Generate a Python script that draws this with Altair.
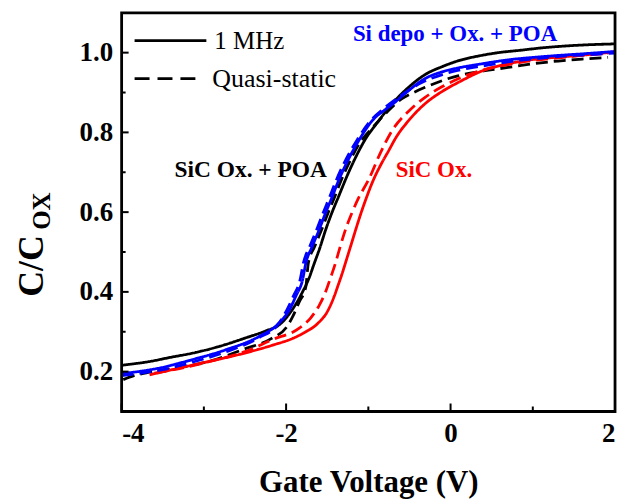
import altair as alt
import pandas as pd

# ---- data ----
bs_v = [-4.0, -3.7, -3.4, -3.1, -2.8, -2.5, -2.25, -2.08, -1.96, -1.88, -1.80, -1.72, -1.66, -1.59, -1.52, -1.44, -1.36, -1.26, -1.16, -1.03, -0.90, -0.71, -0.50, -0.31, -0.10, 0.10, 0.35, 0.58, 0.85, 1.11, 1.50, 2.0]
bs_c = [0.216, 0.224, 0.236, 0.248, 0.264, 0.284, 0.302, 0.318, 0.345, 0.37, 0.40, 0.435, 0.47, 0.51, 0.555, 0.60, 0.64, 0.69, 0.735, 0.785, 0.822, 0.872, 0.915, 0.945, 0.965, 0.98, 0.992, 1.0, 1.006, 1.012, 1.018, 1.022]

bd_v = [-3.98, -3.85, -3.70, -3.34, -2.93, -2.53, -2.17, -2.0, -1.92, -1.84, -1.76, -1.73, -1.65, -1.57, -1.49, -1.41, -1.33, -1.22, -1.10, -0.98, -0.87, -0.72, -0.59, -0.45, -0.31, -0.10, 0.10, 0.40, 0.70, 1.0, 1.31, 1.6, 1.915]
bd_c = [0.18, 0.19, 0.197, 0.209, 0.226, 0.255, 0.284, 0.31, 0.338, 0.375, 0.413, 0.472, 0.515, 0.555, 0.598, 0.638, 0.68, 0.73, 0.775, 0.805, 0.83, 0.862, 0.885, 0.90, 0.913, 0.93, 0.9425, 0.954, 0.963, 0.972, 0.979, 0.984, 0.988]

us_v = [-4.0, -3.54, -3.14, -2.73, -2.33, -2.085, -1.96, -1.88, -1.80, -1.76, -1.68, -1.60, -1.52, -1.44, -1.36, -1.26, -1.115, -0.95, -0.79, -0.71, -0.51, -0.31, -0.10, 0.10, 0.38, 0.70, 1.0, 1.31, 1.6, 2.0]
us_c = [0.195, 0.209, 0.23, 0.255, 0.288, 0.322, 0.355, 0.39, 0.43, 0.472, 0.515, 0.555, 0.598, 0.638, 0.68, 0.725, 0.78, 0.83, 0.858, 0.87, 0.905, 0.935, 0.952, 0.962, 0.972, 0.982, 0.988, 0.993, 0.997, 1.003]

ud_v = [-4.0, -3.5, -3.1, -2.7, -2.33, -2.1, -1.99, -1.91, -1.83, -1.79, -1.71, -1.63, -1.55, -1.47, -1.39, -1.29, -1.14, -0.97, -0.8, -0.6, -0.35, -0.1, 0.1, 0.4, 0.7, 1.0, 1.3, 1.6, 2.0]
ud_c = [0.19, 0.205, 0.226, 0.252, 0.285, 0.318, 0.355, 0.39, 0.43, 0.472, 0.515, 0.555, 0.598, 0.638, 0.68, 0.725, 0.78, 0.83, 0.862, 0.893, 0.925, 0.945, 0.956, 0.967, 0.977, 0.984, 0.99, 0.994, 0.999]

rs_v = [-3.66, -3.34, -2.93, -2.57, -2.17, -1.9, -1.76, -1.64, -1.58, -1.52, -1.47, -1.42, -1.37, -1.32, -1.27, -1.21, -1.155, -1.09, -1.02, -0.94, -0.84, -0.75, -0.67, -0.50, -0.31, -0.10, 0.10, 0.42, 0.70, 0.905, 1.2, 1.51, 2.0]
rs_c = [0.192, 0.207, 0.226, 0.243, 0.266, 0.285, 0.30, 0.316, 0.328, 0.343, 0.362, 0.386, 0.415, 0.445, 0.478, 0.518, 0.555, 0.597, 0.638, 0.68, 0.722, 0.755, 0.785, 0.832, 0.872, 0.903, 0.926, 0.957, 0.972, 0.98, 0.987, 0.992, 1.002]

rd_v = [-3.6, -3.2, -2.8, -2.5, -2.17, -1.84, -1.70, -1.60, -1.52, -1.46, -1.40, -1.34, -1.28, -1.20, -1.12, -1.0, -0.85, -0.71, -0.5, -0.31, -0.1, 0.1, 0.4, 0.7, 1.0, 1.31, 1.6, 1.915]
rd_c = [0.196, 0.212, 0.232, 0.25, 0.28, 0.309, 0.335, 0.365, 0.40, 0.435, 0.472, 0.515, 0.555, 0.598, 0.635, 0.68, 0.75, 0.805, 0.855, 0.888, 0.915, 0.935, 0.957, 0.97, 0.98, 0.987, 0.993, 0.998]

series = [
    ("SiC Ox. + POA 1 MHz", "black", "solid", bs_v, bs_c),
    ("SiC Ox. + POA QS", "black", "dash", bd_v, bd_c),
    ("SiC Ox. 1 MHz", "red", "solid", rs_v, rs_c),
    ("SiC Ox. QS", "red", "dash", rd_v, rd_c),
    ("Si depo 1 MHz", "blue", "solid", us_v, us_c),
    ("Si depo QS", "blue", "dash", ud_v, ud_c),
]
x_major = [-4, -2, 0, 2]
x_minor = [-3, -1, 1]
y_major = [0.2, 0.4, 0.6, 0.8, 1.0]
y_minor = [0.3, 0.5, 0.7, 0.9]

rows = []
for order, (name, col, dash, vs, cs) in enumerate(series):
    for v, c in zip(vs, cs):
        rows.append({"V": v, "C": c, "series": name, "col": col, "dash": dash, "ord": order})
df = pd.DataFrame(rows)

FONT = "Liberation Serif"
W, H = 495, 400
xs = alt.Scale(domain=[-4, 2], nice=False, zero=False)
ys = alt.Scale(domain=[0.1, 1.1], nice=False, zero=False)

lines = alt.Chart(df).mark_line(strokeWidth=2.8, clip=True, interpolate="monotone").encode(
    x=alt.X("V:Q", scale=xs, axis=alt.Axis(values=x_major, labelExpr="'' + datum.value", ticks=False, domain=False, grid=False,
                                          labelFont=FONT, labelFontSize=27, labelFontWeight="bold", labelColor="black",
                                          labelPadding=9, title="Gate Voltage (V)", titleFont=FONT, titleFontSize=31,
                                          titleFontWeight="bold", titleColor="black", titlePadding=21)),
    y=alt.Y("C:Q", scale=ys, axis=alt.Axis(values=y_major, format=".1f", ticks=False, domain=False, grid=False,
                                          labelFont=FONT, labelFontSize=27, labelFontWeight="bold", labelColor="black",
                                          labelPadding=9, title=None)),
    color=alt.Color("col:N", scale=alt.Scale(domain=["black", "red", "blue"], range=["#000000", "#FF0000", "#0000FF"]), legend=None),
    strokeDash=alt.StrokeDash("dash:N", scale=alt.Scale(domain=["solid", "dash"], range=[[1, 0], [12, 6]]), legend=None),
    detail="series:N",
    order="ord:Q",
)

xt_maj = alt.Chart(pd.DataFrame({"v": x_major})).mark_rule(color="black", strokeWidth=2).encode(
    x=alt.X("v:Q", scale=xs), y=alt.value(H), y2=alt.value(H - 8))
xt_min = alt.Chart(pd.DataFrame({"v": x_minor})).mark_rule(color="black", strokeWidth=2).encode(
    x=alt.X("v:Q", scale=xs), y=alt.value(H), y2=alt.value(H - 5))
yt_maj = alt.Chart(pd.DataFrame({"v": y_major})).mark_rule(color="black", strokeWidth=2).encode(
    y=alt.Y("v:Q", scale=ys), x=alt.value(0), x2=alt.value(7))
yt_min = alt.Chart(pd.DataFrame({"v": y_minor})).mark_rule(color="black", strokeWidth=2).encode(
    y=alt.Y("v:Q", scale=ys), x=alt.value(0), x2=alt.value(4))

one = pd.DataFrame({"a": [0]})
frame = alt.Chart(one).mark_rect(fill="transparent", stroke="black", strokeWidth=2.8).encode(
    x=alt.value(0), x2=alt.value(W), y=alt.value(0), y2=alt.value(H))
leg1 = alt.Chart(one).mark_rule(color="black", strokeWidth=2.8).encode(
    x=alt.value(13), x2=alt.value(85), y=alt.value(28))
leg2 = alt.Chart(one).mark_rule(color="black", strokeWidth=2.8, strokeDash=[15, 8]).encode(
    x=alt.value(13), x2=alt.value(75), y=alt.value(66))

def txt(s, x, y, size, color="black", weight="normal", align="left", angle=0):
    return alt.Chart(one).mark_text(text=s, font=FONT, fontSize=size, fontWeight=weight, color=color,
                                    align=align, baseline="middle", angle=angle).encode(
        x=alt.value(x), y=alt.value(y))

texts = [
    txt("1 MHz", 93, 28, 25),
    txt("Quasi-static", 91, 66, 26),
    txt("Si depo + Ox. + POA", 232, 21, 23, color="#0000FF", weight="bold"),
    txt("SiC Ox. + POA", 53, 158, 23.5, weight="bold"),
    txt("SiC Ox.", 275, 158, 23, color="#FF0000", weight="bold"),
    txt("C/C", -90, 254, 36, weight="bold", align="center", angle=270),
    txt("OX", -80, 199, 25, weight="bold", align="center", angle=270),
]

chart = alt.layer(lines, xt_maj, xt_min, yt_maj, yt_min, frame, leg1, leg2, *texts).properties(
    width=W, height=H,
    autosize=alt.AutoSizeParams(type="none"),
    padding={"left": 114, "top": 4, "right": 10, "bottom": 87},
).configure_view(stroke=None).configure(background="white")

chart.save("out.html", embed_options={"renderer": "svg", "actions": False})
